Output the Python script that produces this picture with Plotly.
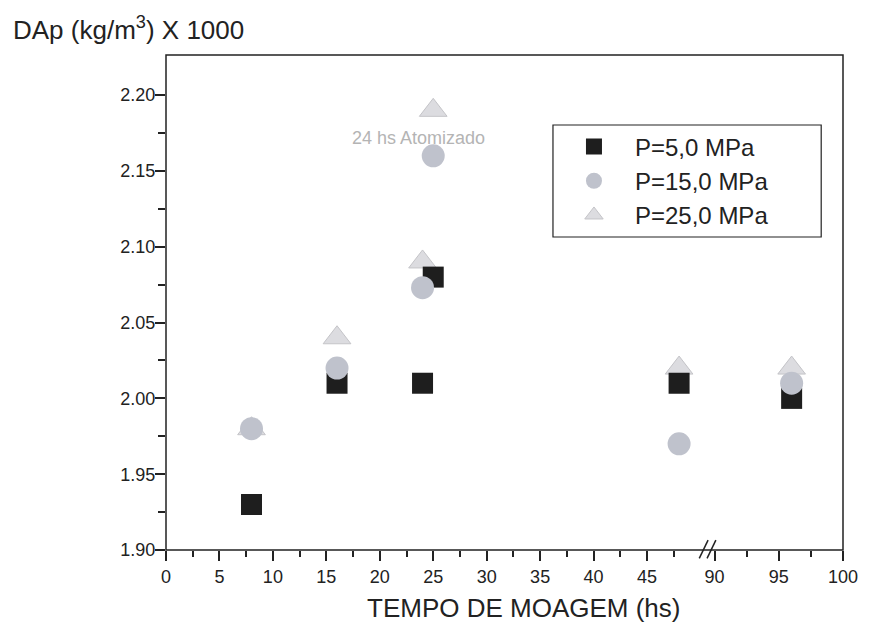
import plotly.graph_objects as go

# ---- data ----
tempo = [8, 16, 24, 25, 48, 96]
p5 = [1.93, 2.01, 2.01, 2.08, 2.01, 2.00]
p15 = [1.98, 2.02, 2.073, 2.16, 1.97, 2.01]
p25 = [1.98, 2.04, 2.09, 2.19, 2.02, 2.02]
series_names = ["P=5,0 MPa", "P=15,0 MPa", "P=25,0 MPa"]
x_ticks_left = [0, 5, 10, 15, 20, 25, 30, 35, 40, 45]
x_ticks_right = [90, 95, 100]
y_ticks = [1.90, 1.95, 2.00, 2.05, 2.10, 2.15, 2.20]

FONT = "Arial, Liberation Sans, sans-serif"
BREAK_LO = 50.3   # end of left segment
BREAK_HI = 89.15  # start of right segment

styles = {
    "P=5,0 MPa": dict(symbol="square", size=21, color="#1e1e1e", line=dict(width=0)),
    "P=15,0 MPa": dict(symbol="circle", size=23, color="#bfc2cc", line=dict(width=0)),
    "P=25,0 MPa": dict(symbol="triangle-up", size=24, color="#dcdce0", line=dict(width=1, color="#c4c4c8")),
}
vals = {"P=5,0 MPa": p5, "P=15,0 MPa": p15, "P=25,0 MPa": p25}
rank = {"P=5,0 MPa": 1, "P=15,0 MPa": 2, "P=25,0 MPa": 3}
draw_order = ["P=25,0 MPa", "P=5,0 MPa", "P=15,0 MPa"]

fig = go.Figure()
for name in draw_order:
    ys = vals[name]
    xl = [t for t in tempo if t <= BREAK_LO]
    yl = [v for t, v in zip(tempo, ys) if t <= BREAK_LO]
    xr = [t for t in tempo if t >= BREAK_HI]
    yr = [v for t, v in zip(tempo, ys) if t >= BREAK_HI]
    fig.add_trace(go.Scatter(x=xl, y=yl, mode="markers", name=name, marker=styles[name],
                             legendgroup=name, legendrank=rank[name], xaxis="x", yaxis="y"))
    fig.add_trace(go.Scatter(x=xr, y=yr, mode="markers", name=name, marker=styles[name],
                             legendgroup=name, showlegend=False, xaxis="x2", yaxis="y2"))

f = 0.7942
tickfont = dict(family=FONT, size=18, color="#222222")
fig.update_layout(
    width=870, height=630,
    margin=dict(l=166, r=20, t=55, b=80),
    paper_bgcolor="white", plot_bgcolor="white",
    showlegend=True,
    legend=dict(x=0.5716, y=0.7455, xanchor="left", yanchor="middle",
                borderwidth=0, bgcolor="rgba(0,0,0,0)",
                font=dict(family=FONT, size=24, color="#222222"),
                itemwidth=72, tracegroupgap=0),
    xaxis=dict(domain=[0, f], range=[0, BREAK_LO], anchor="y",
               tickmode="array", tickvals=x_ticks_left, ticktext=[str(v) for v in x_ticks_left],
               ticks="outside", ticklen=10, tickwidth=1.5, tickcolor="#222222",
               minor=dict(tickmode="array", tickvals=[v + 2.5 for v in x_ticks_left],
                          ticks="outside", ticklen=6, tickwidth=1.5, tickcolor="#222222", showgrid=False),
               showgrid=False, zeroline=False, showline=False, tickfont=tickfont),
    xaxis2=dict(domain=[f, 1], range=[BREAK_HI, 100], anchor="y2",
                tickmode="array", tickvals=x_ticks_right, ticktext=[str(v) for v in x_ticks_right],
                ticks="outside", ticklen=10, tickwidth=1.5, tickcolor="#222222",
                minor=dict(tickmode="array", tickvals=[92.5, 97.5],
                           ticks="outside", ticklen=6, tickwidth=1.5, tickcolor="#222222", showgrid=False),
                showgrid=False, zeroline=False, showline=False, tickfont=tickfont),
    yaxis=dict(range=[1.90, 2.2265], anchor="x",
               tickmode="array", tickvals=y_ticks, ticktext=["%.2f" % v for v in y_ticks],
               ticks="outside", ticklen=10, tickwidth=1.5, tickcolor="#222222",
               ticklabelstandoff=-4,
               minor=dict(tickmode="array", tickvals=[v + 0.025 for v in y_ticks[:-1]],
                          ticks="outside", ticklen=7, tickwidth=1.5, tickcolor="#222222", showgrid=False),
               showgrid=False, zeroline=False, showline=False, tickfont=tickfont),
    yaxis2=dict(range=[1.90, 2.2265], anchor="x2", matches="y", visible=False),
)

# frame
fig.add_shape(type="rect", xref="paper", yref="paper", x0=0, x1=1, y0=0, y1=1,
              line=dict(color="#222222", width=1.5), layer="above")
# legend box
fig.add_shape(type="rect", xref="paper", yref="paper", x0=0.5716, x1=0.9678, y0=0.6323, y1=0.8586,
              line=dict(color="#222222", width=1.2), fillcolor="rgba(0,0,0,0)", layer="above")
# axis break marks
for dx in (0.0, 0.0115):
    fig.add_shape(type="line", xref="paper", yref="paper",
                  x0=f - 0.0065 + dx, x1=f + 0.0065 + dx, y0=-0.017, y1=0.02,
                  line=dict(color="#222222", width=1.5))

fig.add_annotation(text="24 hs Atomizado", x=23.6, y=2.1715, xref="x", yref="y",
                   showarrow=False, font=dict(family=FONT, size=18, color="#b4b4b4"))
fig.add_annotation(text="DAp (kg/m<sup>3</sup>) X 1000", xref="paper", yref="paper",
                   x=-0.2295, y=1.0545, xanchor="left", yanchor="middle", showarrow=False,
                   font=dict(family=FONT, size=26, color="#222222"))
fig.add_annotation(text="TEMPO DE MOAGEM (hs)", xref="paper", yref="paper",
                   x=0.528, y=-0.117, xanchor="center", yanchor="middle", showarrow=False,
                   font=dict(family=FONT, size=26, color="#222222"))

fig.write_html("out.html")
